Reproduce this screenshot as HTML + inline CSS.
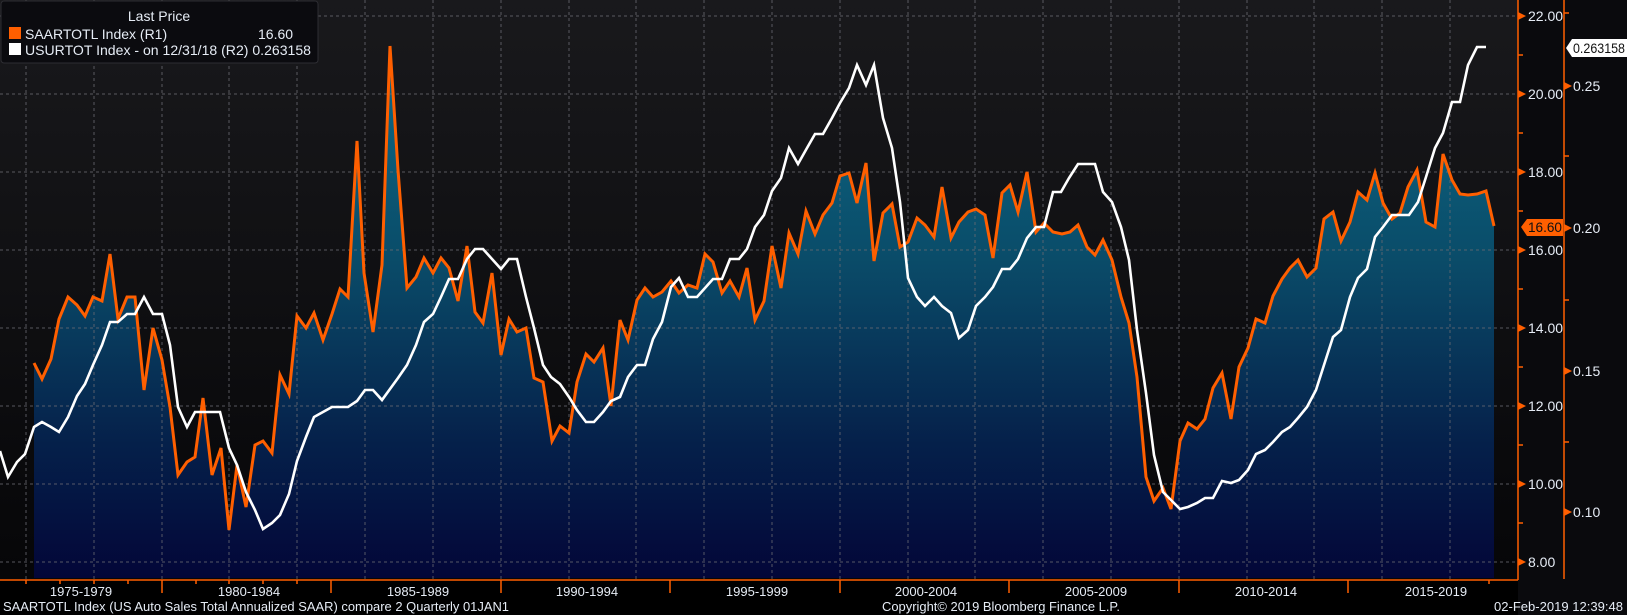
<!DOCTYPE html>
<html><head><meta charset="utf-8"><style>
html,body{margin:0;padding:0;background:#000;}
svg{display:block;font-family:"Liberation Sans Narrow","Liberation Sans",sans-serif;}
</style></head><body>
<svg width="1627" height="615" viewBox="0 0 1627 615" xmlns="http://www.w3.org/2000/svg">
<defs>
<linearGradient id="bg" x1="0" y1="0" x2="0" y2="1">
<stop offset="0" stop-color="#19191c"/><stop offset="1" stop-color="#060608"/></linearGradient>
<linearGradient id="fill" gradientUnits="userSpaceOnUse" x1="0" y1="46" x2="0" y2="578">
<stop offset="0" stop-color="#0d6a86"/><stop offset="0.4" stop-color="#0a4c69"/><stop offset="0.75" stop-color="#05204a"/><stop offset="1" stop-color="#030638"/></linearGradient>
</defs>
<rect width="1627" height="615" fill="#000"/>
<rect x="0" y="0" width="1518" height="579" fill="url(#bg)"/>
<rect x="1518" y="0" width="109" height="615" fill="#0a0a0d"/>
<polygon fill="url(#fill)" points="34,578 34,363 42,379 51,359 59,319 68,297 77,305 85,316 93,297 102,301 110,254 118,319 127,297 135,297 144,390 153,328 162,360 170,407 178,475 187,462 195,457 203,398 212,475 221,448 229,530 237,465 246,507 255,445 263,441 272,453 280,375 289,394 297,316 306,328 314,313 323,340 332,314 340,289 348,297 357,141 364,273 373,332 382,265 390,46 398,170 407,288 416,277 424,258 433,273 441,258 449,268 458,301 467,246 475,312 483,323 492,273 501,355 509,319 517,332 526,328 534,378 543,382 552,441 560,426 569,433 577,382 586,354 594,362 603,348 611,406 620,320 628,340 637,300 645,288 653,297 662,292 671,281 679,293 688,285 697,288 705,254 713,262 722,293 730,281 739,297 747,268 755,320 764,301 772,246 781,288 789,233 798,254 806,211 815,234 823,215 832,203 840,176 849,173 857,203 866,163 874,261 883,213 892,204 900,247 908,242 917,218 925,225 934,237 942,187 951,238 959,222 968,212 976,209 985,215 993,258 1002,193 1010,185 1018,212 1027,172 1036,232 1044,223 1053,232 1062,234 1070,232 1078,225 1087,247 1095,255 1103,240 1112,260 1121,297 1129,323 1137,377 1146,477 1154,501 1163,488 1171,509 1180,441 1188,423 1197,429 1205,419 1213,388 1222,373 1231,419 1239,367 1248,348 1256,319 1265,323 1273,296 1282,279 1290,268 1298,260 1307,277 1316,268 1324,219 1333,212 1341,241 1350,222 1358,192 1367,200 1375,173 1383,203 1392,219 1400,213 1408,187 1417,170 1426,222 1435,227 1443,154 1452,180 1460,194 1468,195 1477,194 1486,191 1494,226 1494,578"/>
<g stroke="#6a6a72" stroke-width="1" stroke-dasharray="3,3" opacity="0.8">
<line x1="0" y1="16" x2="1518" y2="16"/><line x1="0" y1="94" x2="1518" y2="94"/><line x1="0" y1="172" x2="1518" y2="172"/><line x1="0" y1="250" x2="1518" y2="250"/><line x1="0" y1="328" x2="1518" y2="328"/><line x1="0" y1="406" x2="1518" y2="406"/><line x1="0" y1="484" x2="1518" y2="484"/><line x1="0" y1="562" x2="1518" y2="562"/>
<line x1="26" y1="0" x2="26" y2="579"/><line x1="94" y1="0" x2="94" y2="579"/><line x1="162" y1="0" x2="162" y2="579"/><line x1="229" y1="0" x2="229" y2="579"/><line x1="297" y1="0" x2="297" y2="579"/><line x1="365" y1="0" x2="365" y2="579"/><line x1="433" y1="0" x2="433" y2="579"/><line x1="501" y1="0" x2="501" y2="579"/><line x1="569" y1="0" x2="569" y2="579"/><line x1="636" y1="0" x2="636" y2="579"/><line x1="704" y1="0" x2="704" y2="579"/><line x1="772" y1="0" x2="772" y2="579"/><line x1="840" y1="0" x2="840" y2="579"/><line x1="908" y1="0" x2="908" y2="579"/><line x1="975" y1="0" x2="975" y2="579"/><line x1="1043" y1="0" x2="1043" y2="579"/><line x1="1111" y1="0" x2="1111" y2="579"/><line x1="1179" y1="0" x2="1179" y2="579"/><line x1="1247" y1="0" x2="1247" y2="579"/><line x1="1314" y1="0" x2="1314" y2="579"/><line x1="1382" y1="0" x2="1382" y2="579"/><line x1="1450" y1="0" x2="1450" y2="579"/>
</g>
<polyline fill="none" stroke="#ff5f00" stroke-width="3" points="34,363 42,379 51,359 59,319 68,297 77,305 85,316 93,297 102,301 110,254 118,319 127,297 135,297 144,390 153,328 162,360 170,407 178,475 187,462 195,457 203,398 212,475 221,448 229,530 237,465 246,507 255,445 263,441 272,453 280,375 289,394 297,316 306,328 314,313 323,340 332,314 340,289 348,297 357,141 364,273 373,332 382,265 390,46 398,170 407,288 416,277 424,258 433,273 441,258 449,268 458,301 467,246 475,312 483,323 492,273 501,355 509,319 517,332 526,328 534,378 543,382 552,441 560,426 569,433 577,382 586,354 594,362 603,348 611,406 620,320 628,340 637,300 645,288 653,297 662,292 671,281 679,293 688,285 697,288 705,254 713,262 722,293 730,281 739,297 747,268 755,320 764,301 772,246 781,288 789,233 798,254 806,211 815,234 823,215 832,203 840,176 849,173 857,203 866,163 874,261 883,213 892,204 900,247 908,242 917,218 925,225 934,237 942,187 951,238 959,222 968,212 976,209 985,215 993,258 1002,193 1010,185 1018,212 1027,172 1036,232 1044,223 1053,232 1062,234 1070,232 1078,225 1087,247 1095,255 1103,240 1112,260 1121,297 1129,323 1137,377 1146,477 1154,501 1163,488 1171,509 1180,441 1188,423 1197,429 1205,419 1213,388 1222,373 1231,419 1239,367 1248,348 1256,319 1265,323 1273,296 1282,279 1290,268 1298,260 1307,277 1316,268 1324,219 1333,212 1341,241 1350,222 1358,192 1367,200 1375,173 1383,203 1392,219 1400,213 1408,187 1417,170 1426,222 1435,227 1443,154 1452,180 1460,194 1468,195 1477,194 1486,191 1494,226"/>
<polyline fill="none" stroke="#ffffff" stroke-width="2.6" points="0,451 8,477 17,462 25,454 34,427 42,422 51,427 59,432 68,417 77,396 85,384 93,365 102,345 110,322 118,322 127,314 135,314 144,297 153,314 162,314 170,345 178,407 187,427 195,412 220,412 229,448 237,465 246,492 255,510 263,529 272,523 280,515 289,494 297,461 306,437 314,417 323,412 332,407 348,407 357,401 365,390 373,390 382,400 390,389 398,378 407,365 416,345 424,322 433,314 441,297 449,279 458,279 467,259 475,249 483,249 492,259 501,269 509,259 517,259 526,297 534,328 543,365 551,377 560,384 569,397 577,410 586,422 594,422 603,412 611,401 620,397 628,377 637,365 645,365 653,339 662,322 671,287 679,278 688,297 697,297 705,288 713,279 722,279 730,259 739,259 747,249 755,227 764,215 772,191 781,178 789,148 798,164 807,148 815,134 823,134 832,118 840,103 849,88 857,65 866,85 874,65 883,118 892,148 900,202 908,278 917,297 925,306 934,297 942,306 951,313 959,338 968,330 976,306 985,297 993,287 1002,269 1010,269 1018,259 1027,238 1036,227 1044,227 1053,192 1061,192 1069,178 1078,164 1095,164 1103,192 1112,202 1121,227 1129,260 1137,330 1146,393 1154,455 1163,492 1171,500 1180,509 1188,507 1197,503 1205,498 1213,498 1222,481 1231,483 1239,480 1248,470 1256,454 1265,450 1273,442 1282,432 1290,427 1298,418 1307,407 1316,390 1324,365 1333,337 1341,330 1350,297 1358,278 1367,269 1375,237 1383,227 1392,215 1409,215 1418,202 1426,177 1435,148 1443,133 1452,102 1460,102 1468,65 1477,47 1486,47"/>
<g stroke="#ff5f00" stroke-width="1.5">
<line x1="0" y1="580" x2="1518" y2="580"/>
<line x1="1518" y1="0" x2="1518" y2="580"/>
<line x1="1564" y1="0" x2="1564" y2="579"/>
<line x1="1518" y1="55" x2="1523" y2="55"/><line x1="1518" y1="133" x2="1523" y2="133"/><line x1="1518" y1="211" x2="1523" y2="211"/><line x1="1518" y1="289" x2="1523" y2="289"/><line x1="1518" y1="367" x2="1523" y2="367"/><line x1="1518" y1="445" x2="1523" y2="445"/><line x1="1518" y1="523" x2="1523" y2="523"/>
<line x1="1564" y1="13" x2="1569" y2="13"/><line x1="1564" y1="156" x2="1569" y2="156"/><line x1="1564" y1="300" x2="1569" y2="300"/><line x1="1564" y1="442" x2="1569" y2="442"/>
<line x1="26" y1="580" x2="26" y2="584"/><line x1="60" y1="580" x2="60" y2="584"/><line x1="94" y1="580" x2="94" y2="584"/><line x1="128" y1="580" x2="128" y2="584"/><line x1="162" y1="580" x2="162" y2="593"/><line x1="196" y1="580" x2="196" y2="584"/><line x1="229" y1="580" x2="229" y2="584"/><line x1="263" y1="580" x2="263" y2="584"/><line x1="297" y1="580" x2="297" y2="584"/><line x1="331" y1="580" x2="331" y2="593"/><line x1="501" y1="580" x2="501" y2="593"/><line x1="670" y1="580" x2="670" y2="593"/><line x1="840" y1="580" x2="840" y2="593"/><line x1="1009" y1="580" x2="1009" y2="593"/><line x1="1179" y1="580" x2="1179" y2="593"/><line x1="1348" y1="580" x2="1348" y2="593"/><line x1="1489" y1="580" x2="1489" y2="584"/>
</g>
<g fill="#ff5f00">
<polygon points="1518,12 1526,16 1518,20"/><polygon points="1518,90 1526,94 1518,98"/><polygon points="1518,168 1526,172 1518,176"/><polygon points="1518,246 1526,250 1518,254"/><polygon points="1518,324 1526,328 1518,332"/><polygon points="1518,402 1526,406 1518,410"/><polygon points="1518,480 1526,484 1518,488"/><polygon points="1518,558 1526,562 1518,566"/>
<polygon points="1564,82 1572,86 1564,90"/><polygon points="1564,224 1572,228 1564,232"/><polygon points="1564,367 1572,371 1564,375"/><polygon points="1564,508 1572,512 1564,516"/>
</g>
<g fill="#e6ecf5" font-size="14">
<text x="1528" y="21">22.00</text><text x="1528" y="99">20.00</text><text x="1528" y="177">18.00</text><text x="1528" y="255">16.00</text><text x="1528" y="333">14.00</text><text x="1528" y="411">12.00</text><text x="1528" y="489">10.00</text><text x="1528" y="567">8.00</text>
<text x="1573" y="91">0.25</text><text x="1573" y="233">0.20</text><text x="1573" y="376">0.15</text><text x="1573" y="517">0.10</text>
</g>
<polygon points="1521,227 1527,219 1563,219 1563,236 1527,236" fill="#ff5f00"/>
<text x="1528" y="232" font-size="14" fill="#111" textLength="34" lengthAdjust="spacingAndGlyphs">16.60</text>
<polygon points="1566,48 1572,39 1627,39 1627,57 1572,57" fill="#ffffff"/>
<text x="1573" y="53" font-size="14" fill="#111" textLength="52" lengthAdjust="spacingAndGlyphs">0.263158</text>
<g fill="#e6ecf5" font-size="13" text-anchor="middle">
<text x="81" y="596">1975-1979</text><text x="249" y="596">1980-1984</text><text x="418" y="596">1985-1989</text><text x="587" y="596">1990-1994</text><text x="757" y="596">1995-1999</text><text x="926" y="596">2000-2004</text><text x="1096" y="596">2005-2009</text><text x="1266" y="596">2010-2014</text><text x="1436" y="596">2015-2019</text>
</g>
<g fill="#e6ecf5" font-size="13">
<text x="3" y="611" textLength="506" lengthAdjust="spacingAndGlyphs">SAARTOTL Index (US Auto Sales Total Annualized SAAR) compare 2  Quarterly 01JAN1</text>
<text x="882" y="611" textLength="238" lengthAdjust="spacingAndGlyphs">Copyright© 2019 Bloomberg Finance L.P.</text>
<text x="1494" y="611" textLength="129" lengthAdjust="spacingAndGlyphs">02-Feb-2019 12:39:48</text>
</g>
<rect x="1" y="1" width="317" height="62" rx="3" fill="#0b0b0f" stroke="#2e2e33"/>
<g fill="#e6ecf5" font-size="14">
<text x="159" y="21" text-anchor="middle">Last Price</text>
<rect x="9" y="27" width="12" height="12" fill="#ff5f00"/>
<text x="25" y="39">SAARTOTL Index  (R1)</text>
<text x="258" y="39">16.60</text>
<rect x="9" y="43" width="12" height="12" fill="#ffffff"/>
<text x="25" y="55" textLength="286" lengthAdjust="spacingAndGlyphs">USURTOT Index -  on 12/31/18  (R2) 0.263158</text>
</g>
</svg>
</body></html>
